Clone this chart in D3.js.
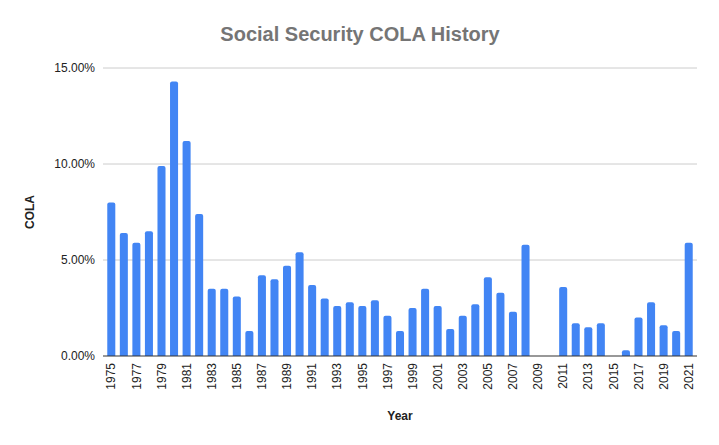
<!DOCTYPE html>
<html>
<head>
<meta charset="utf-8">
<script src="https://cdn.jsdelivr.net/npm/d3@7"></script>
<style>
  body { margin: 0; background: #fff; }
  text { font-family: "Liberation Sans", Arial, sans-serif; }
</style>
</head>
<body>
<div class="chart"></div>
<script>
var svgWidth = 719;
var svgHeight = 445;

var margin = { top: 68, right: 22, bottom: 89, left: 103 };
var width = svgWidth - margin.left - margin.right;
var height = svgHeight - margin.top - margin.bottom;

// chart data
var years = [1975, 1976, 1977, 1978, 1979, 1980, 1981, 1982, 1983, 1984,
    1985, 1986, 1987, 1988, 1989, 1990, 1991, 1992, 1993, 1994,
    1995, 1996, 1997, 1998, 1999, 2000, 2001, 2002, 2003, 2004,
    2005, 2006, 2007, 2008, 2009, 2010, 2011, 2012, 2013, 2014,
    2015, 2016, 2017, 2018, 2019, 2020, 2021];
var cola = [8.0, 6.4, 5.9, 6.5, 9.9, 14.3, 11.2, 7.4, 3.5, 3.5,
    3.1, 1.3, 4.2, 4.0, 4.7, 5.4, 3.7, 3.0, 2.6, 2.8,
    2.6, 2.9, 2.1, 1.3, 2.5, 3.5, 2.6, 1.4, 2.1, 2.7,
    4.1, 3.3, 2.3, 5.8, 0, 0, 3.6, 1.7, 1.5, 1.7,
    0, 0.3, 2.0, 2.8, 1.6, 1.3, 5.9];
var yTicks = [0, 5, 10, 15];

var data = years.map((y, i) => ({ year: y, value: cola[i] }));

var svg = d3.select(".chart")
    .append("svg")
    .attr("width", svgWidth)
    .attr("height", svgHeight);

var chartGroup = svg.append("g")
    .attr("transform", `translate(${margin.left}, ${margin.top})`);

var xScale = d3.scaleBand()
    .domain(years)
    .range([0, width])
    .paddingInner(0.36)
    .paddingOuter(0.34);

var yScale = d3.scaleLinear()
    .domain([0, 15])
    .range([height, 0]);

// gridlines
chartGroup.selectAll(".grid")
    .data(yTicks.filter(d => d > 0))
    .enter()
    .append("line")
    .attr("x1", 0)
    .attr("x2", width)
    .attr("y1", d => yScale(d))
    .attr("y2", d => yScale(d))
    .attr("stroke", "#cccccc")
    .attr("stroke-width", 1);

// y axis labels
var leftAxis = d3.axisLeft(yScale)
    .tickValues(yTicks)
    .tickSize(0)
    .tickPadding(8)
    .tickFormat(d => d.toFixed(2) + "%");

chartGroup.append("g")
    .call(leftAxis)
    .call(g => g.select(".domain").remove())
    .selectAll("text")
    .attr("font-size", 12)
    .attr("font-family", "'Liberation Sans', Arial, sans-serif")
    .attr("fill", "#222");

// bars with slightly rounded tops
var r = 2;
function barPath(d) {
    var x0 = xScale(d.year);
    var w = xScale.bandwidth();
    var y0 = yScale(d.value);
    var b = yScale(0);
    var rr = Math.min(r, (b - y0) / 2);
    return `M${x0},${b}V${y0 + rr}Q${x0},${y0} ${x0 + rr},${y0}` +
        `H${x0 + w - rr}Q${x0 + w},${y0} ${x0 + w},${y0 + rr}V${b}Z`;
}

chartGroup.selectAll(".bar")
    .data(data.filter(d => d.value > 0))
    .enter()
    .append("path")
    .attr("class", "bar")
    .attr("d", barPath)
    .attr("fill", "#4285f4");

// baseline
chartGroup.append("line")
    .attr("x1", 0)
    .attr("x2", width)
    .attr("y1", yScale(0))
    .attr("y2", yScale(0))
    .attr("stroke", "#333")
    .attr("stroke-width", 1.2);

// x axis labels, every other year
var bottomAxis = d3.axisBottom(xScale)
    .tickValues(years.filter((y, i) => i % 2 === 0))
    .tickSize(0)
    .tickPadding(0);

chartGroup.append("g")
    .attr("transform", `translate(0, ${height})`)
    .call(bottomAxis)
    .call(g => g.select(".domain").remove())
    .selectAll("text")
    .attr("font-size", 12)
    .attr("font-family", "'Liberation Sans', Arial, sans-serif")
    .attr("fill", "#222")
    .attr("transform", "rotate(-90)")
    .attr("text-anchor", "end")
    .attr("x", -7)
    .attr("y", 0)
    .attr("dy", "0.35em");

// title
svg.append("text")
    .attr("x", 360)
    .attr("y", 41)
    .attr("text-anchor", "middle")
    .attr("font-size", 20)
    .attr("font-weight", "bold")
    .attr("fill", "#757575")
    .text("Social Security COLA History");

// axis titles
svg.append("text")
    .attr("x", margin.left + width / 2)
    .attr("y", 420)
    .attr("text-anchor", "middle")
    .attr("font-size", 12)
    .attr("font-weight", "bold")
    .attr("fill", "#222")
    .text("Year");

svg.append("text")
    .attr("transform", `translate(34, ${margin.top + height / 2}) rotate(-90)`)
    .attr("text-anchor", "middle")
    .attr("font-size", 12)
    .attr("font-weight", "bold")
    .attr("fill", "#222")
    .text("COLA");
</script>
</body>
</html>
